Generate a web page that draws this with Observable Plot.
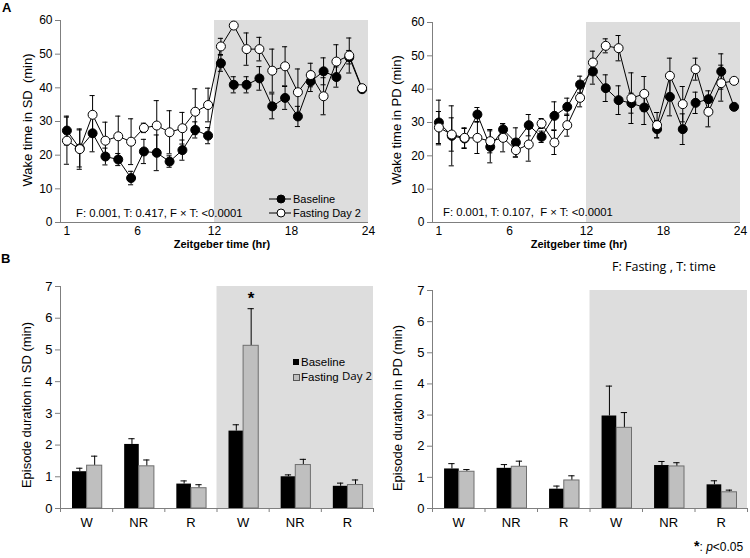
<!DOCTYPE html>
<html>
<head>
<meta charset="utf-8">
<script src="https://cdn.jsdelivr.net/npm/d3@7"></script>
<script src="https://cdn.jsdelivr.net/npm/@observablehq/plot@0.6"></script>
<style>
  html, body { margin: 0; padding: 0; background: white; }
  #wrap { position: relative; width: 750px; height: 558px; overflow: hidden; font-family: "Liberation Sans", Arial, sans-serif; }
  .panel { position: absolute; }
  #overlay { position: absolute; left: 0; top: 0; pointer-events: none; }
  .pre { white-space: pre; }
</style>
</head>
<body>
<div id="wrap"></div>
<script>
// ---------------- DATA ----------------
const hours = [1,2,3,4,5,6,7,8,9,10,11,12,13,14,15,16,17,18,19,20,21,22,23,24];
const darkPhase = [12, 24];
const xTickHours = [1, 6, 12, 18, 24];

// Wake time in SD (min)
const sdBase    = [27.3,22.0,26.5,19.6,18.7,13.2,21.1,20.7,18.1,21.5,27.5,25.8,47.3,40.9,40.9,42.8,34.5,37.0,31.5,41.9,44.9,43.2,49.1,39.6];
const sdBaseErr = [4.3,5.5,5.5,2.5,1.8,2.0,3.6,5.3,1.7,3.0,2.4,2.4,2.4,2.4,2.4,3.5,3.7,3.4,3.0,3.0,4.0,3.0,2.0,0.5];
const sdFast    = [24.3,21.8,32.0,24.3,25.6,24.0,28.1,28.8,26.8,28.0,32.9,34.9,52.3,58.5,51.5,51.5,45.1,46.4,38.7,43.8,37.5,47.8,49.6,39.9];
const sdFastErr = [7.0,6.0,5.7,5.5,6.0,6.8,1.4,7.4,6.4,4.7,6.8,5.0,2.4,0.5,4.8,3.5,6.4,5.8,6.9,3.5,5.5,5.0,5.2,0.5];

// Wake time in PD (min)
const pdBase    = [30.0,26.0,25.2,32.4,22.7,27.9,24.0,29.2,25.7,32.0,34.7,41.4,45.3,40.3,36.7,35.8,34.5,28.0,37.7,28.0,35.9,37.0,45.3,34.7];
const pdBaseErr = [6.7,9.0,3.0,2.1,4.8,1.8,4.4,3.2,1.7,4.2,2.6,2.5,3.8,4.0,4.3,3.0,5.1,2.6,5.7,4.6,3.2,2.5,5.3,0.5];
const pdFast    = [28.5,26.4,25.4,25.4,24.4,25.4,21.7,23.4,29.7,24.0,29.2,37.4,48.0,53.0,52.3,37.3,38.6,29.2,44.0,35.5,46.0,33.2,41.8,42.5];
const pdFastErr = [4.8,5.0,3.0,4.7,3.5,4.2,2.0,5.0,1.5,3.6,3.3,2.7,3.4,2.1,3.8,7.6,5.2,3.8,5.3,5.3,3.3,4.5,5.4,0.5];

// Episode duration (min)
const stages = ["W","NR","R","W","NR","R"];
const darkStages = [3, 6];
const sdBarBase    = [1.16,2.02,0.77,2.44,1.00,0.70];
const sdBarBaseErr = [0.11,0.18,0.10,0.20,0.06,0.10];
const sdBarFast    = [1.35,1.33,0.64,5.13,1.37,0.74];
const sdBarFastErr = [0.30,0.20,0.11,1.17,0.18,0.16];
const pdBarBase    = [1.27,1.29,0.62,2.97,1.38,0.76];
const pdBarBaseErr = [0.17,0.12,0.10,0.96,0.13,0.13];
const pdBarFast    = [1.18,1.34,0.90,2.59,1.35,0.52];
const pdBarFastErr = [0.07,0.18,0.15,0.49,0.12,0.07];
const sigIndex = 3; // W (dark) fasting significant

// ---------------- HELPERS ----------------
const FONT = "'Liberation Sans', Arial, sans-serif";
const AXIS = "#7f7f7f";
const SHADE = "#dddddd";
const GRAYBAR = "#bfbfbf";

function series(vals, errs) {
  return hours.map((h, i) => ({h, v: vals[i], e: errs[i]}));
}
function caps(data) {
  return data.flatMap(d => [{h: d.h, y: d.v + d.e}, {h: d.h, y: d.v - d.e}]);
}
function seriesMarks(data, fill) {
  const X = d => d.h - 0.5;
  return [
    Plot.ruleX(data, {x: X, y1: d => d.v - d.e, y2: d => d.v + d.e, stroke: "black", strokeWidth: 1}),
    Plot.ruleY(caps(data), {y: "y", x1: d => d.h - 0.5 - 0.2, x2: d => d.h - 0.5 + 0.2, stroke: "black", strokeWidth: 1}),
    Plot.line(data, {x: X, y: "v", stroke: "black", strokeWidth: 1}),
    Plot.dot(data, {x: X, y: "v", r: 4.5, fill, stroke: "black", strokeWidth: 1})
  ];
}
function linePanel(base, baseErr, fast, fastErr, opts) {
  return Plot.plot({
    width: 375, height: 260,
    marginLeft: opts.ml, marginRight: opts.mr, marginTop: opts.mt, marginBottom: 260 - 222,
    x: {domain: [0, 24]},
    y: {domain: [0, 60]},
    style: {fontFamily: FONT, fontSize: "12px", background: "transparent", overflow: "visible", color: "black"},
    marks: [
      Plot.rect([darkPhase], {x1: d => d[0], x2: d => d[1], y1: 0, y2: 60, fill: SHADE}),
      Plot.ruleX([0], {stroke: AXIS}),
      Plot.ruleY([0], {stroke: AXIS}),
      Plot.axisY({ticks: [0,10,20,30,40,50,60], tickSize: 5, tickPadding: 3, stroke: AXIS, fill: "black", label: null, fontSize: 12, tickFormat: "d"}),
      Plot.axisX({ticks: xTickHours.map(h => h === 1 ? 0.5 : h),
                  tickFormat: d => d === 0.5 ? "1" : String(d),
                  tickSize: 0, tickPadding: 4, label: null, fill: "black", fontSize: 12}),
      ...seriesMarks(series(base, baseErr), "black"),
      ...seriesMarks(series(fast, fastErr), "white")
    ]
  });
}
function barPanel(base, baseErr, fast, fastErr, opts) {
  const rows = stages.map((s, i) => ({i, s, b: base[i], be: baseErr[i], f: fast[i], fe: fastErr[i]}));
  const bc = d => d.i + 0.37, fc = d => d.i + 0.655;
  const marks = [
    Plot.rect([darkStages], {x1: d => d[0], x2: d => d[1], y1: 0, y2: 7, fill: SHADE}),
    Plot.ruleX([0], {stroke: AXIS}),
    Plot.ruleY([0], {stroke: AXIS}),
    Plot.axisY({ticks: [0,1,2,3,4,5,6,7], tickSize: 5, tickPadding: 3, stroke: AXIS, fill: "black", label: null, fontSize: 13, tickFormat: "d"}),
    Plot.axisX({ticks: [0,1,2,3,4,5,6], tickSize: 4, tickFormat: () => "", stroke: AXIS, label: null}),
    Plot.axisX({ticks: stages.map((s, i) => i + 0.5), tickFormat: d => stages[Math.floor(d)],
                tickSize: 0, tickPadding: 9, label: null, fill: "black", fontSize: 13}),
    // error bars (upward only)
    Plot.ruleX(rows, {x: bc, y1: "b", y2: d => d.b + d.be, stroke: "black"}),
    Plot.ruleY(rows, {y: d => d.b + d.be, x1: d => bc(d) - 0.06, x2: d => bc(d) + 0.06, stroke: "black"}),
    Plot.ruleX(rows, {x: fc, y1: "f", y2: d => d.f + d.fe, stroke: "black"}),
    Plot.ruleY(rows, {y: d => d.f + d.fe, x1: d => fc(d) - 0.06, x2: d => fc(d) + 0.06, stroke: "black"}),
    // bars
    Plot.rectY(rows, {x1: d => d.i + 0.23, x2: d => d.i + 0.51, y: "b", fill: "black"}),
    Plot.rectY(rows, {x1: d => d.i + 0.51, x2: d => d.i + 0.80, y: "f", fill: GRAYBAR, stroke: "#6f6f6f", strokeWidth: 1})
  ];
  if (opts.sig) {
    marks.push(Plot.text([rows[sigIndex]], {x: fc, y: d => d.f + d.fe, text: () => "*", dy: -10, fontSize: 17, fontWeight: "bold", fill: "black"}));
  }
  return Plot.plot({
    width: 375, height: 290,
    marginLeft: opts.ml, marginRight: opts.mr, marginTop: opts.mt, marginBottom: 50,
    x: {domain: [0, 6]},
    y: {domain: [0, 7]},
    style: {fontFamily: FONT, fontSize: "13px", background: "transparent", overflow: "visible", color: "black"},
    marks
  });
}

// ---------------- LAYOUT ----------------
const wrap = document.getElementById("wrap");
function place(node, left, top) {
  const d = document.createElement("div");
  d.className = "panel";
  d.style.left = left + "px";
  d.style.top = top + "px";
  d.appendChild(node);
  wrap.appendChild(d);
}
place(linePanel(sdBase, sdBaseErr, sdFast, sdFastErr, {ml: 60, mr: 7, mt: 20}), 0, 0);
place(linePanel(pdBase, pdBaseErr, pdFast, pdFastErr, {ml: 57, mr: 10, mt: 22}), 375, 0);
place(barPanel(sdBarBase, sdBarBaseErr, sdBarFast, sdBarFastErr, {ml: 60, mr: 2, mt: 18, sig: true}), 0, 268);
place(barPanel(pdBarBase, pdBarBaseErr, pdBarFast, pdBarFastErr, {ml: 57, mr: 3, mt: 22, sig: false}), 375, 268);

// ---------------- ANNOTATIONS ----------------
const ns = "http://www.w3.org/2000/svg";
const ov = document.createElementNS(ns, "svg");
ov.setAttribute("id", "overlay");
ov.setAttribute("width", 750);
ov.setAttribute("height", 558);
ov.style.fontFamily = FONT;
wrap.appendChild(ov);
function el(tag, attrs, text) {
  const e = document.createElementNS(ns, tag);
  for (const k in attrs) e.setAttribute(k, attrs[k]);
  if (text != null) e.textContent = text;
  ov.appendChild(e);
  return e;
}
// panel letters
el("text", {x: 2, y: 12, "font-size": 13, "font-weight": "bold"}, "A");
el("text", {x: 1, y: 263, "font-size": 13, "font-weight": "bold"}, "B");
// y-axis titles
el("text", {transform: "translate(32,120) rotate(-90)", "text-anchor": "middle", "font-size": 13, class: "pre"}, "Wake time in SD  (min)");
el("text", {transform: "translate(401,120) rotate(-90)", "text-anchor": "middle", "font-size": 13}, "Wake time in PD (min)");
el("text", {transform: "translate(31,405) rotate(-90)", "text-anchor": "middle", "font-size": 13}, "Episode duration in SD (min)");
el("text", {transform: "translate(402,408) rotate(-90)", "text-anchor": "middle", "font-size": 13}, "Episode duration in PD (min)");
// x-axis titles
el("text", {x: 222, y: 248, "text-anchor": "middle", "font-size": 11, "font-weight": "bold"}, "Zeitgeber time (hr)");
el("text", {x: 579, y: 248, "text-anchor": "middle", "font-size": 11, "font-weight": "bold"}, "Zeitgeber time (hr)");
// stats
el("text", {x: 76, y: 217, "font-size": 11.3}, "F: 0.001, T: 0.417, F \u00d7 T: <0.0001");
el("text", {x: 443, y: 216, "font-size": 11.3, class: "pre"}, "F: 0.001, T: 0.107,  F \u00d7 T: <0.0001");
el("text", {x: 612, y: 271, "font-size": 12.5, "font-family": "'Open Sans', sans-serif"}, "F: Fasting , T: time");
// top-left legend
el("line", {x1: 269, x2: 291, y1: 199, y2: 199, stroke: "black"});
el("circle", {cx: 281, cy: 199, r: 4, fill: "black", stroke: "black"});
el("text", {x: 293, y: 203, "font-size": 11}, "Baseline");
el("line", {x1: 269, x2: 291, y1: 213, y2: 213, stroke: "black"});
el("circle", {cx: 281, cy: 213, r: 4, fill: "white", stroke: "black"});
el("text", {x: 293, y: 217, "font-size": 11}, "Fasting Day 2");
// bottom-left legend
el("rect", {x: 293, y: 359, width: 6, height: 6, fill: "black"});
el("text", {x: 301, y: 366, "font-size": 11.5}, "Baseline");
el("rect", {x: 293.5, y: 374.5, width: 6, height: 6, fill: GRAYBAR, stroke: "#555"});
el("text", {x: 301, y: 381, "font-size": 11.5}, "Fasting");
el("text", {x: 342, y: 380, "font-size": 11.5, "font-family": "'Open Sans', sans-serif"}, "Day 2");
// significance note
const note = el("text", {x: 694, y: 551, "font-size": 12});
const s1 = document.createElementNS(ns, "tspan"); s1.setAttribute("font-weight", "bold"); s1.setAttribute("font-size", 14); s1.textContent = "*"; note.appendChild(s1);
const s2 = document.createElementNS(ns, "tspan"); s2.textContent = ": "; note.appendChild(s2);
const s3 = document.createElementNS(ns, "tspan"); s3.setAttribute("font-style", "italic"); s3.textContent = "p"; note.appendChild(s3);
const s4 = document.createElementNS(ns, "tspan"); s4.textContent = "<0.05"; note.appendChild(s4);
</script>
</body>
</html>
